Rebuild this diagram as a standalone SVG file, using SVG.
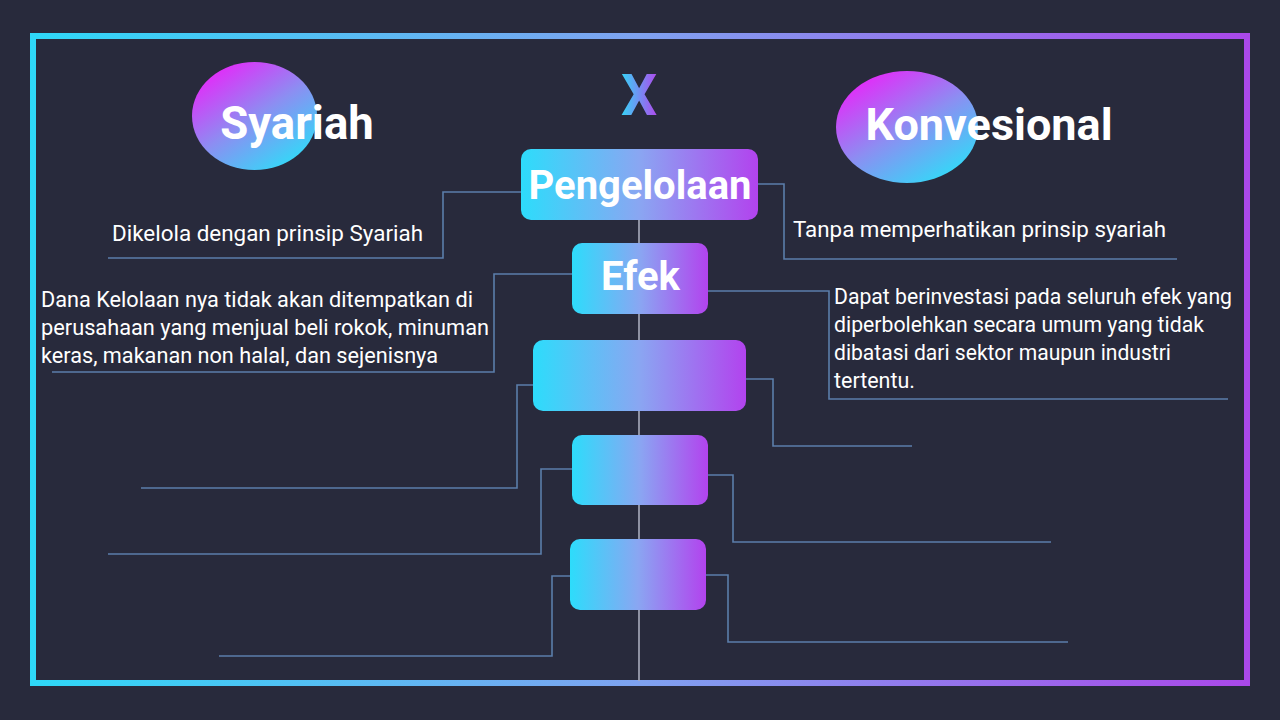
<svg xmlns="http://www.w3.org/2000/svg" width="1280" height="720" viewBox="0 0 1280 720">
<defs>
<linearGradient id="frameG" gradientUnits="userSpaceOnUse" x1="30" y1="0" x2="1250" y2="0">
<stop offset="0" stop-color="#2ed8f7"/>
<stop offset="0.5" stop-color="#7fa2f0"/>
<stop offset="1" stop-color="#aa48e9"/>
</linearGradient>
<linearGradient id="boxG" x1="0" y1="0" x2="1" y2="0">
<stop offset="0" stop-color="#2ddcfb"/>
<stop offset="0.5" stop-color="#8aa6f2"/>
<stop offset="1" stop-color="#b243ee"/>
</linearGradient>
<linearGradient id="circG" x1="0.15" y1="0.1" x2="0.8" y2="0.95">
<stop offset="0" stop-color="#e22cf9"/>
<stop offset="0.5" stop-color="#8c8ef2"/>
<stop offset="1" stop-color="#33d9f8"/>
</linearGradient>
<linearGradient id="xG" x1="0" y1="0" x2="1" y2="0">
<stop offset="0" stop-color="#34d6f7"/>
<stop offset="1" stop-color="#b04aee"/>
</linearGradient>
<style>
.title{font-family:Roboto,"Liberation Sans",sans-serif;font-weight:bold;fill:#ffffff;text-anchor:middle}
.desc{font-family:Roboto,"Liberation Sans",sans-serif;font-size:21.6px;fill:#ffffff}
.conn{fill:none;stroke:#5b7eaa;stroke-width:1.6}
.spine{fill:none;stroke:#a9adbd;stroke-width:1.6}
.box{fill:url(#boxG)}
</style>
</defs>
<rect width="1280" height="720" fill="#282a3c"/>
<rect x="33" y="36" width="1214" height="647" fill="none" stroke="url(#frameG)" stroke-width="6"/>

<g id="connectors">
<line class="spine" x1="639" y1="220" x2="639" y2="681"/>
<polyline class="conn" points="521,192 443,192 443,258 108,258"/>
<polyline class="conn" points="758,184 784,184 784,259 1177,259"/>
<polyline class="conn" points="572,274 494,274 494,372 52,372"/>
<polyline class="conn" points="708,291 829,291 829,399 1228,399"/>
<polyline class="conn" points="533,385 517,385 517,488 141,488"/>
<polyline class="conn" points="746,379 773,379 773,446 912,446"/>
<polyline class="conn" points="572,469 541,469 541,554 108,554"/>
<polyline class="conn" points="708,475 733,475 733,542 1051,542"/>
<polyline class="conn" points="570,576 552,576 552,656 219,656"/>
<polyline class="conn" points="706,575 728,575 728,642 1068,642"/>
</g>

<g id="syariah">
<ellipse cx="254.5" cy="116" rx="62.5" ry="54" fill="url(#circG)"/>
<text class="title" x="297" y="139" font-size="45.5">Syariah</text>
</g>

<g id="vs">
<text x="639" y="115" font-family="Roboto,'Liberation Sans',sans-serif" font-weight="bold" font-size="57" fill="url(#xG)" text-anchor="middle">X</text>
</g>

<g id="konvesional">
<ellipse cx="907" cy="127" rx="71" ry="56" fill="url(#circG)"/>
<text class="title" x="989" y="140" font-size="45">Konvesional</text>
</g>

<g id="pengelolaan">
<rect class="box" x="521" y="149" width="237" height="71" rx="10"/>
<text class="title" x="640" y="199" font-size="40">Pengelolaan</text>
</g>

<g id="efek">
<rect class="box" x="572" y="243" width="136" height="71" rx="10"/>
<text class="title" x="640.5" y="290" font-size="40">Efek</text>
</g>

<g id="box3">
<rect class="box" x="533" y="340" width="213" height="71" rx="10"/>
</g>

<g id="box4">
<rect class="box" x="572" y="435" width="136" height="70" rx="10"/>
</g>

<g id="box5">
<rect class="box" x="570" y="539" width="136" height="71" rx="10"/>
</g>

<g id="desc-pengelolaan-syariah">
<text class="desc" x="112" y="241" textLength="311" lengthAdjust="spacingAndGlyphs">Dikelola dengan prinsip Syariah</text>
</g>
<g id="desc-pengelolaan-konv">
<text class="desc" x="793" y="237" textLength="373" lengthAdjust="spacingAndGlyphs">Tanpa memperhatikan prinsip syariah</text>
</g>
<g id="desc-efek-syariah">
<text class="desc" x="41" y="307" textLength="432" lengthAdjust="spacingAndGlyphs">Dana Kelolaan nya tidak akan ditempatkan di</text>
<text class="desc" x="41" y="335" textLength="448" lengthAdjust="spacingAndGlyphs">perusahaan yang menjual beli rokok, minuman</text>
<text class="desc" x="41" y="363" textLength="397" lengthAdjust="spacingAndGlyphs">keras, makanan non halal, dan sejenisnya</text>
</g>
<g id="desc-efek-konv">
<text class="desc" x="834" y="304" textLength="398" lengthAdjust="spacingAndGlyphs">Dapat berinvestasi pada seluruh efek yang</text>
<text class="desc" x="834" y="332" textLength="370" lengthAdjust="spacingAndGlyphs">diperbolehkan secara umum yang tidak</text>
<text class="desc" x="834" y="360" textLength="337" lengthAdjust="spacingAndGlyphs">dibatasi dari sektor maupun industri</text>
<text class="desc" x="834" y="388" textLength="81" lengthAdjust="spacingAndGlyphs">tertentu.</text>
</g>
</svg>
